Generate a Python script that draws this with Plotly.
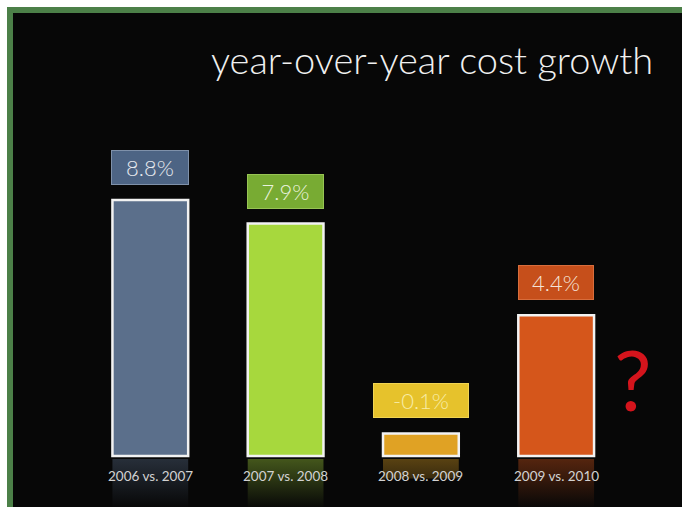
import plotly.graph_objects as go

# ---- data -------------------------------------------------------------
categories = ["2006 vs. 2007", "2007 vs. 2008", "2008 vs. 2009", "2009 vs. 2010"]
growth_pct = [8.8, 7.9, -0.1, 4.4]
value_labels = ["8.8%", "7.9%", "-0.1%", "4.4%"]

# ---- styling ----------------------------------------------------------
bar_colors = ["#5b6f8b", "#a7d83d", "#e0a224", "#d5561b"]
box_colors = ["#4d6484", "#78ab33", "#e6c22c", "#c64f1b"]
box_border = ["#7f91aa", "#97c454", "#f0d452", "#d86d3c"]
label_text_colors = ["#e6e9ee", "#e9f2dc", "#f8eca6", "#f5e3d8"]
box_widths = [76, 75, 94, 74]
refl_rgb = ["91,111,139", "167,216,61", "224,162,36", "213,86,27"]

W, H = 682, 507
FLOOR = -0.96          # value at which the bars sit
PX_PER_UNIT = 26.24    # vertical scale (pixels per percentage point)
BASE_PX = 456          # baseline pixel row
BAR_W = 0.56

x_idx = list(range(len(categories)))
y_lo = FLOOR - (H - BASE_PX) / PX_PER_UNIT
y_hi = FLOOR + BASE_PX / PX_PER_UNIT

fig = go.Figure()

# mirrored reflections under the baseline, fading out
gap = 3 / PX_PER_UNIT
for i, v in enumerate(growth_pct):
    depth = v - FLOOR
    xl, xr = i - BAR_W / 2, i + BAR_W / 2
    fig.add_trace(go.Scatter(
        x=[xl, xr, xr, xl, xl],
        y=[FLOOR - gap, FLOOR - gap, FLOOR - depth, FLOOR - depth, FLOOR - gap],
        mode="lines", line=dict(width=0), fill="toself",
        fillgradient=dict(
            type="vertical",
            colorscale=[[0, f"rgba({refl_rgb[i]},0)"], [1, f"rgba({refl_rgb[i]},0.38)"]],
            start=FLOOR - 2.0, stop=FLOOR - gap,
        ),
        hoverinfo="skip", showlegend=False,
    ))

# the bars themselves
fig.add_trace(go.Bar(
    x=x_idx,
    y=[v - FLOOR for v in growth_pct],
    base=FLOOR,
    width=BAR_W,
    marker=dict(color=bar_colors, line=dict(color="#f2f2f2", width=2.5)),
    hoverinfo="skip", showlegend=False,
))

annotations = []
# value boxes above the bars
for i, v in enumerate(growth_pct):
    annotations.append(dict(
        x=i, y=v, xref="x", yref="y", yanchor="bottom", yshift=15,
        text=value_labels[i], showarrow=False,
        width=box_widths[i], height=33, borderpad=0,
        bgcolor=box_colors[i], bordercolor=box_border[i], borderwidth=1,
        font=dict(family="Lato", size=22, weight=300, color=label_text_colors[i]),
    ))
# category labels under the bars
for i, c in enumerate(categories):
    annotations.append(dict(
        x=i, y=FLOOR, xref="x", yref="y", yanchor="middle", yshift=-20,
        text=c, showarrow=False,
        font=dict(family="Lato", size=13.5, color="#d2d2d2"),
    ))
# title
annotations.append(dict(
    x=655 / W, y=1 - 59 / H, xref="paper", yref="paper",
    xanchor="right", yanchor="middle", showarrow=False,
    text="year-over-year cost growth",
    font=dict(family="Lato", size=38, weight=300, color="#f0f0f0"),
))
# question mark beside the last bar
annotations.append(dict(
    x=633 / W, y=1 - 378 / H, xref="paper", yref="paper",
    xanchor="center", yanchor="middle", showarrow=False,
    text="?",
    font=dict(family="Lato", size=84, weight=400, color="#d4141c"),
))

shapes = [
    # green frame and the black slide inside it
    dict(type="rect", xref="paper", yref="paper", x0=7 / W, x1=1, y0=0, y1=1 - 7 / H,
         fillcolor="#4c8048", line=dict(width=0), layer="below"),
    dict(type="rect", xref="paper", yref="paper", x0=13 / W, x1=1, y0=0, y1=1 - 13 / H,
         fillcolor="#070707", line=dict(width=0), layer="below"),
]

fig.update_layout(
    width=W, height=H,
    margin=dict(l=0, r=0, t=0, b=0),
    paper_bgcolor="#ffffff",
    plot_bgcolor="rgba(0,0,0,0)",
    showlegend=False,
    shapes=shapes,
    annotations=annotations,
    xaxis=dict(range=[-1.111, 3.930], visible=False, fixedrange=True),
    yaxis=dict(range=[y_lo, y_hi], visible=False, fixedrange=True),
)

fig.write_html("out.html", config={"displayModeBar": False})
